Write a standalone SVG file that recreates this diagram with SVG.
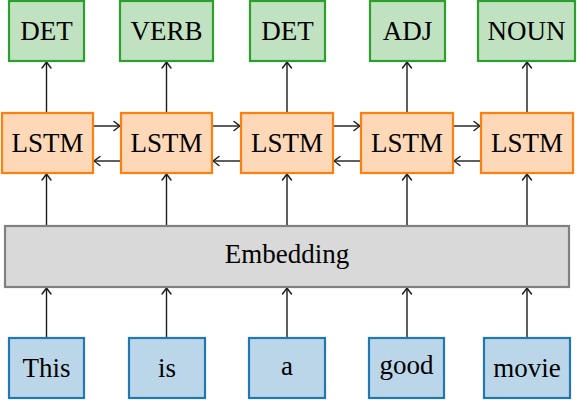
<svg xmlns="http://www.w3.org/2000/svg" width="577" height="400" viewBox="0 0 577 400">
<defs>
<style>
.g rect{fill:#c0e2c0;stroke:#2ca02c;stroke-width:2.2}
.o rect{fill:#ffd9b7;stroke:#ff7f0e;stroke-width:2.2}
.b rect{fill:#bcd6e9;stroke:#1f77b4;stroke-width:2.2}
.e rect{fill:#d9d9d9;stroke:#808080;stroke-width:2.2}
text{font-family:"Liberation Serif","Times New Roman",serif;font-size:27px;fill:#000;text-anchor:middle}
#connectors line{stroke:#1a1a1a;stroke-width:1.4;marker-end:url(#ah)}
</style>
<marker id="ah" markerUnits="userSpaceOnUse" markerWidth="12" markerHeight="12" viewBox="-7 -6 8 12" refX="0" refY="0" orient="auto">
<path d="M-6,-4.5 Q-1.5,-1 0,0 Q-1.5,1 -6,4.5" fill="none" stroke="#1a1a1a" stroke-width="1.4" stroke-linecap="round" stroke-linejoin="round"/>
</marker>
</defs>
<rect width="577" height="400" fill="#fff"/>
<g id="connectors">
<line x1="46.5" y1="338" x2="46.5" y2="288"/>
<line x1="166.5" y1="338" x2="166.5" y2="288"/>
<line x1="287" y1="338" x2="287" y2="288"/>
<line x1="407" y1="338" x2="407" y2="288"/>
<line x1="527" y1="338" x2="527" y2="288"/>
<line x1="46.5" y1="226" x2="46.5" y2="174"/>
<line x1="166.5" y1="226" x2="166.5" y2="174"/>
<line x1="287" y1="226" x2="287" y2="174"/>
<line x1="407" y1="226" x2="407" y2="174"/>
<line x1="527" y1="226" x2="527" y2="174"/>
<line x1="46.5" y1="113" x2="46.5" y2="62"/>
<line x1="166.5" y1="113" x2="166.5" y2="62"/>
<line x1="287" y1="113" x2="287" y2="62"/>
<line x1="407" y1="113" x2="407" y2="62"/>
<line x1="527" y1="113" x2="527" y2="62"/>
<line x1="93" y1="126" x2="120" y2="126"/>
<line x1="212" y1="126" x2="240" y2="126"/>
<line x1="333" y1="126" x2="360" y2="126"/>
<line x1="453" y1="126" x2="480" y2="126"/>
<line x1="121" y1="161" x2="94" y2="161"/>
<line x1="241" y1="161" x2="213" y2="161"/>
<line x1="361" y1="161" x2="334" y2="161"/>
<line x1="481" y1="161" x2="454" y2="161"/>
</g>
<g id="out1" class="g"><rect x="9" y="1" width="75" height="60"/><text x="46.5" y="40">DET</text></g>
<g id="out2" class="g"><rect x="120" y="1" width="93" height="60"/><text x="166.5" y="40">VERB</text></g>
<g id="out3" class="g"><rect x="250" y="1" width="75" height="60"/><text x="287.5" y="40">DET</text></g>
<g id="out4" class="g"><rect x="370" y="1" width="75" height="60"/><text x="407.5" y="40">ADJ</text></g>
<g id="out5" class="g"><rect x="478" y="1" width="97" height="60"/><text x="526.5" y="40">NOUN</text></g>
<g id="lstm1" class="o"><rect x="2" y="113" width="91" height="60"/><text x="47.5" y="152">LSTM</text></g>
<g id="lstm2" class="o"><rect x="121" y="113" width="91" height="60"/><text x="166.5" y="152">LSTM</text></g>
<g id="lstm3" class="o"><rect x="241" y="113" width="92" height="60"/><text x="287" y="152">LSTM</text></g>
<g id="lstm4" class="o"><rect x="361" y="113" width="92" height="60"/><text x="407" y="152">LSTM</text></g>
<g id="lstm5" class="o"><rect x="481" y="113" width="92" height="60"/><text x="527" y="152">LSTM</text></g>
<g id="embedding" class="e"><rect x="5" y="226" width="564" height="61"/><text x="287" y="263">Embedding</text></g>
<g id="in1" class="b"><rect x="9" y="338" width="75" height="60"/><text x="46.5" y="377">This</text></g>
<g id="in2" class="b"><rect x="129" y="338" width="76" height="60"/><text x="167" y="377">is</text></g>
<g id="in3" class="b"><rect x="249" y="338" width="76" height="60"/><text x="287" y="375">a</text></g>
<g id="in4" class="b"><rect x="369" y="338" width="75" height="60"/><text x="406.5" y="374">good</text></g>
<g id="in5" class="b"><rect x="484" y="338" width="86" height="60"/><text x="527" y="377">movie</text></g>
</svg>
